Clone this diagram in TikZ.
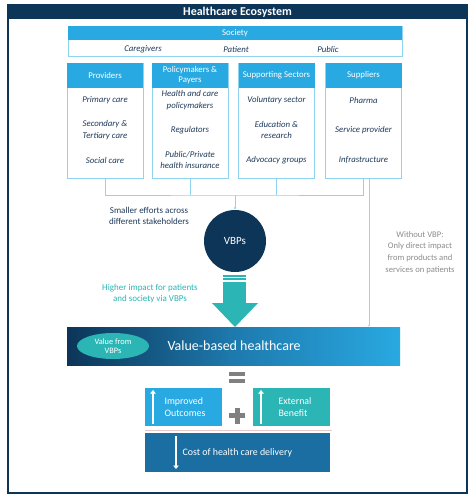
\documentclass[tikz,border=0pt]{standalone}
\usepackage{fontspec}
\setmainfont{Carlito}
\usetikzlibrary{arrows.meta,shapes.geometric}

\definecolor{navy}{HTML}{0C3558}
\definecolor{skyblue}{HTML}{29A9E1}
\definecolor{tealc}{HTML}{2BB5B5}
\definecolor{costblue}{HTML}{1B6EA1}
\definecolor{inkblue}{HTML}{1E3A5A}
\definecolor{boxline}{HTML}{8FD3F0}
\definecolor{softgray}{HTML}{8C8C8C}
\definecolor{signgray}{HTML}{808080}

\tikzset{
	% boxes of the ecosystem
	colbox/.style={draw=boxline,line width=0.8pt,minimum width=76pt,minimum height=115pt,inner sep=0},
	colhead/.style={fill=skyblue,text=white,minimum width=76pt,minimum height=25pt,inner sep=0,align=center,font=\fontsize{8.8}{10}\selectfont},
	item/.style={text=inkblue,align=center,font=\itshape\fontsize{8.8}{11.5}\selectfont},
	link/.style={draw=boxline,line width=0.7pt},
	% result boxes
	gainbox/.style={minimum width=77pt,minimum height=38pt,inner sep=0},
	boxtext/.style={text=white,align=left,font=\fontsize{9.9}{11.2}\selectfont,anchor=west},
	whitearrow/.style={draw=white,line width=2.3pt,-{Triangle[length=3.5pt,width=5.5pt]}}
}

\begin{document}
\begin{tikzpicture}[x=1pt,y=-1pt]
	\useasboundingbox (0,0) rectangle (474,500);
	% frame and title
	\draw[navy,line width=1.2pt,fill=white] (8,5) rectangle (467,493);
	\node[fill=navy,minimum width=459pt,minimum height=14pt,inner sep=0] (title) at (237.5,12) {};
	\node[text=white,font=\bfseries\fontsize{12}{13}\selectfont] at (title) {Healthcare Ecosystem};

	% society
	\node[draw=boxline,line width=0.8pt,minimum width=334pt,minimum height=30pt,inner sep=0] (soc) at (235,41) {};
	\node[fill=skyblue,minimum width=334pt,minimum height=14pt,inner sep=0,text=white,font=\fontsize{8.8}{10}\selectfont] (soch) at (235,33) {Society};
	\node[item] (care) at (143,49.5) {Caregivers};
	\node[item] (pat) at (236,49.5) {Patient};
	\node[item] (pub) at (328,49.5) {Public};

	% stakeholder columns
	\node[colbox] (prov) at (105,120.5) {};
	\node[colbox] (pol) at (190,120.5) {};
	\node[colbox] (sup) at (276.5,120.5) {};
	\node[colbox] (suppl) at (363.5,120.5) {};
	\node[colhead] (provh) at (105,75.5) {Providers};
	\node[colhead] (polh) at (190,75.5) {Policymakers \&\\Payers};
	\node[colhead] (suph) at (276.5,75.5) {Supporting Sectors};
	\node[colhead] (supplh) at (363.5,75.5) {Suppliers};

	\node[item] at (105,100) {Primary care};
	\node[item] at (105,130) {Secondary \&\\Tertiary care};
	\node[item] at (105,160) {Social care};
	\node[item] at (190,100) {Health and care\\policymakers};
	\node[item] at (190,130) {Regulators};
	\node[item] at (190,160) {Public/Private\\health insurance};
	\node[item] at (276.5,100) {Voluntary sector};
	\node[item] at (276.5,130) {Education \&\\research};
	\node[item] at (276.5,160) {Advocacy groups};
	\node[item] at (363.5,100) {Pharma};
	\node[item] at (363.5,130) {Service provider};
	\node[item] at (363.5,160) {Infrastructure};

	% joining the efforts
	\coordinate (join) at (235,195);
	\draw[link] (prov.south) |- (join) -| (suppl.south);
	\draw[link] (pol.south) -- (pol.south |- join);
	\draw[link] (sup.south) -- (sup.south |- join);

	\node[circle,fill=navy,minimum size=62pt,inner sep=0,text=white,font=\fontsize{11}{12}\selectfont] (vbp) at (235,241) {VBPs};
	\draw[link,-{Latex[length=2.5pt,width=2.5pt]}] (join) -- (vbp.north);

	\node[text=inkblue,align=center,font=\fontsize{9}{11}\selectfont] (small) at (149,215.5) {Smaller efforts across\\different stakeholders};
	\node[text=tealc,align=center,font=\fontsize{9}{11}\selectfont] (higher) at (150,293.5) {Higher impact for patients\\and society via VBPs};
	\node[text=softgray,align=center,font=\fontsize{8.6}{11.8}\selectfont] (without) at (420,252.5) {Without VBP:\\Only direct impact\\from products and\\services on patients};

	% value-based healthcare
	\node[minimum width=333pt,minimum height=38pt,inner sep=0,left color=navy,right color=skyblue,middle color=costblue!80!skyblue] (vbh) at (233.5,346) {};
	\node[ellipse,fill=tealc,minimum width=72pt,minimum height=26pt,inner sep=0,text=white,align=center,font=\fontsize{8.3}{9.3}\selectfont] (valvbp) at (113,346) {Value from\\VBPs};
	\node[text=white,anchor=west,font=\fontsize{14}{15}\selectfont] (vbhtext) at (164,346) {Value-based healthcare};

	\coordinate (direct) at ([xshift=5.5pt]suppl.south);
	\draw[draw=softgray!50,line width=0.5pt,-{Latex[length=2pt,width=2pt]}] (direct) -- (direct |- vbh.north);

	% teal arrow into the bar
	\fill[tealc] (223,275) rectangle (246,276.5);
	\fill[tealc] (223,278.3) rectangle (246,280);
	\fill[tealc] (223,282) rectangle (246,304);
	\fill[tealc] (212,303) -- (258,303) -- (235,327) -- cycle;

	% equation
	\fill[signgray] (229,372) rectangle (245,376);
	\fill[signgray] (229,379) rectangle (245,383);
	\fill[signgray] (229,413) rectangle (245,418);
	\fill[signgray] (234.5,407.5) rectangle (239.5,423.5);

	\node[gainbox,fill=skyblue] (imp) at (183.5,407) {};
	\node[gainbox,fill=tealc] (ext) at (291.5,407) {};
	\draw[whitearrow] (153,424) -- (153,390);
	\draw[whitearrow] (261,424) -- (261,390);
	\node[boxtext] at (161,407) {Improved\\Outcomes};
	\node[boxtext] at (275,407) {External\\Benefit};

	\draw[draw=signgray!60!red!30,line width=0.8pt] (145,430) -- (332,430);

	\node[minimum width=185pt,minimum height=39pt,inner sep=0,fill=costblue] (cost) at (237.5,452.5) {};
	\draw[whitearrow] (176,436) -- (176,469);
	\node[boxtext] at (179,453) {Cost of health care delivery};
\end{tikzpicture}
\end{document}
